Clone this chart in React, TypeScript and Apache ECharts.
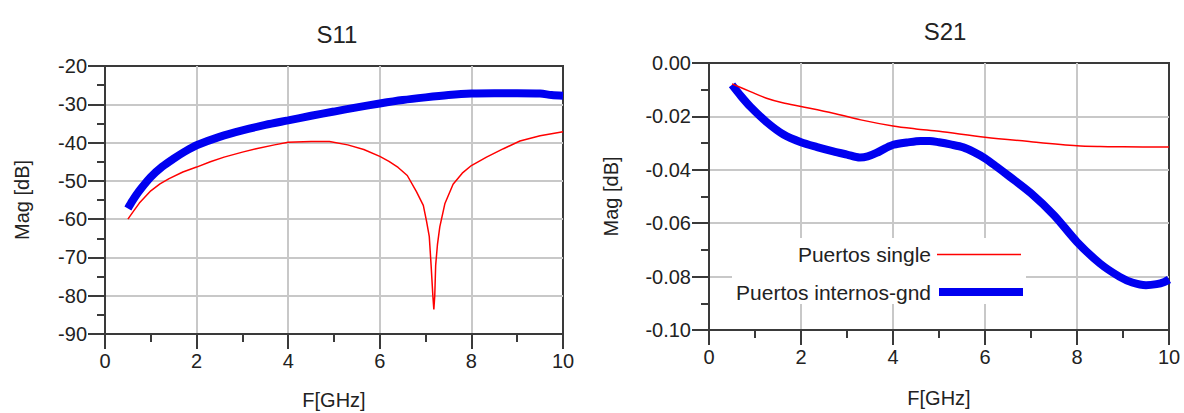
import React, { useEffect, useRef } from "react";
import * as echarts from "echarts";

const FONT = "'Liberation Sans', Arial, Helvetica, sans-serif";

// ---- S11 data ----
const s11SingleF = [0.5, 0.6, 0.75, 1.0, 1.2, 1.4, 1.7, 2.0, 2.3, 2.6, 3.0, 3.3, 3.7, 4.0, 4.5, 4.9, 5.3, 5.65, 6.0, 6.2, 6.4, 6.6, 6.8, 6.95, 7.02, 7.08, 7.12, 7.16, 7.18, 7.2, 7.22, 7.26, 7.31, 7.42, 7.6, 7.8, 8.0, 8.33, 8.7, 9.06, 9.5, 10.0];
const s11SingleDb = [-60, -58.3, -55.8, -52.6, -50.8, -49.4, -47.7, -46.4, -45.0, -43.8, -42.5, -41.6, -40.6, -39.9, -39.7, -39.7, -40.6, -41.8, -43.6, -44.9, -46.5, -48.6, -52.8, -56.4, -60.5, -64.5, -72, -80.3, -83.6, -80, -72, -66.5, -62.0, -56.0, -50.9, -48.0, -46.0, -43.8, -41.6, -39.6, -38.2, -37.2];

const s11GndF = [0.5, 0.6, 0.75, 1.0, 1.25, 1.5, 1.75, 2.0, 2.5, 3.0, 3.5, 4.0, 4.5, 5.0, 5.5, 6.0, 6.5, 7.0, 7.5, 8.0, 8.5, 9.0, 9.5, 9.75, 10.0];
const s11GndDb = [-57.2, -55.2, -52.6, -49.0, -46.3, -44.2, -42.3, -40.7, -38.5, -36.8, -35.4, -34.2, -33.0, -31.9, -30.8, -29.8, -28.9, -28.2, -27.6, -27.2, -27.1, -27.1, -27.2, -27.6, -27.8];

// ---- S21 data ----
const s21SingleF = [0.5, 0.9, 1.25, 1.6, 2.0, 2.7, 3.3, 4.0, 4.5, 5.0, 6.0, 7.0, 8.0, 8.5, 9.0, 10.0];
const s21SingleDb = [-0.0078, -0.0107, -0.0132, -0.0149, -0.0163, -0.0188, -0.0213, -0.0236, -0.0247, -0.0256, -0.0278, -0.0295, -0.031, -0.0313, -0.0314, -0.0315];

const s21GndF = [0.5, 0.7, 0.9, 1.25, 1.62, 2.0, 2.35, 2.7, 3.0, 3.28, 3.45, 3.64, 3.85, 4.02, 4.3, 4.6, 4.8, 5.0, 5.25, 5.53, 5.75, 6.0, 6.25, 6.54, 7.0, 7.5, 8.0, 8.5, 8.93, 9.2, 9.5, 9.73, 9.9, 10.0];
const s21GndDb = [-0.0082, -0.0125, -0.0164, -0.0221, -0.0268, -0.0297, -0.0315, -0.0331, -0.0343, -0.0354, -0.035, -0.0337, -0.0318, -0.0306, -0.0298, -0.0292, -0.0292, -0.0297, -0.0305, -0.0316, -0.0333, -0.0357, -0.0388, -0.0426, -0.0488, -0.057, -0.067, -0.0751, -0.0801, -0.0822, -0.0832, -0.0828, -0.082, -0.0811];

const titles = ["S11", "S21"];
const legendNames = ["Puertos single", "Puertos internos-gnd"];
const xName = "F[GHz]";
const yName = "Mag [dB]";

const zip = (xs: number[], ys: number[]) => xs.map((x, i) => [x, ys[i]]);

const AXIS_COLOR = "#3a3a3a";
const GRID_COLOR = "#c8c8c8";
const TEXT_COLOR = "#222";
const RED = "#ff0000";
const BLUE = "#0000f0";

function xAxisCfg(gridIndex: number, nameGap: number) {
  return {
    gridIndex,
    type: "value",
    min: 0,
    max: 10,
    interval: 2,
    axisLine: { show: true, onZero: false, lineStyle: { color: AXIS_COLOR, width: 2 } },
    axisTick: { show: true, length: 15, lineStyle: { color: AXIS_COLOR, width: 2 } },
    minorTick: { show: true, splitNumber: 2, length: 8, lineStyle: { color: AXIS_COLOR, width: 2 } },
    splitLine: { show: true, showMinLine: false, showMaxLine: false, lineStyle: { color: GRID_COLOR, width: 2 } },
    axisLabel: { fontSize: 20, color: TEXT_COLOR, margin: 17, fontFamily: FONT },
    name: xName,
    nameLocation: "middle",
    nameGap,
    nameTextStyle: { fontSize: 20, color: TEXT_COLOR, fontFamily: FONT },
  };
}

function yAxisCfg(gridIndex: number, min: number, max: number, interval: number, nameGap: number, fmt?: (v: number) => string) {
  return {
    gridIndex,
    type: "value",
    min,
    max,
    interval,
    axisLine: { show: true, onZero: false, lineStyle: { color: AXIS_COLOR, width: 2 } },
    axisTick: { show: true, length: 17, lineStyle: { color: AXIS_COLOR, width: 2 } },
    minorTick: { show: true, splitNumber: 2, length: 8, lineStyle: { color: AXIS_COLOR, width: 2 } },
    splitLine: { show: true, showMinLine: false, showMaxLine: false, lineStyle: { color: GRID_COLOR, width: 2 } },
    axisLabel: { fontSize: 20, color: TEXT_COLOR, margin: 18, fontFamily: FONT, formatter: fmt },
    name: yName,
    nameLocation: "middle",
    nameGap,
    nameTextStyle: { fontSize: 20, color: TEXT_COLOR, fontFamily: FONT },
  };
}

export default function App() {
  const ref = useRef<HTMLDivElement>(null);
  useEffect(() => {
    if (!ref.current) return;
    const chart = echarts.init(ref.current, null, { renderer: "svg" });
    const option: any = {
      animation: false,
      backgroundColor: "#ffffff",
      title: [
        { text: titles[0], left: 332, top: 17, textAlign: "center", textStyle: { fontSize: 24, fontWeight: "normal", color: TEXT_COLOR, fontFamily: FONT } },
        { text: titles[1], left: 940, top: 14, textAlign: "center", textStyle: { fontSize: 24, fontWeight: "normal", color: TEXT_COLOR, fontFamily: FONT } },
      ],
      grid: [
        { left: 105, top: 66, width: 458, height: 268, show: true, borderColor: AXIS_COLOR, borderWidth: 2, containLabel: false, outerBoundsMode: "none" },
        { left: 709, top: 63, width: 460, height: 267, show: true, borderColor: AXIS_COLOR, borderWidth: 2, containLabel: false, outerBoundsMode: "none" },
      ],
      xAxis: [xAxisCfg(0, 56), xAxisCfg(1, 58)],
      yAxis: [
        yAxisCfg(0, -90, -20, 10, 73),
        yAxisCfg(1, -0.1, 0, 0.02, 88, (v: number) => (Math.abs(v) < 1e-9 ? "0.00" : v.toFixed(2))),
      ],
      series: [
        {
          name: legendNames[1], type: "line", xAxisIndex: 0, yAxisIndex: 0, showSymbol: false, silent: true, smooth: 0.3,
          data: zip(s11GndF, s11GndDb), lineStyle: { color: BLUE, width: 8 }, itemStyle: { color: BLUE }, z: 3,
        },
        {
          name: legendNames[0], type: "line", xAxisIndex: 0, yAxisIndex: 0, showSymbol: false, silent: true,
          data: zip(s11SingleF, s11SingleDb), lineStyle: { color: RED, width: 1.5 }, itemStyle: { color: RED }, z: 4,
        },
        {
          name: legendNames[1], type: "line", xAxisIndex: 1, yAxisIndex: 1, showSymbol: false, silent: true, smooth: 0.3,
          data: zip(s21GndF, s21GndDb), lineStyle: { color: BLUE, width: 8 }, itemStyle: { color: BLUE }, z: 3,
        },
        {
          name: legendNames[0], type: "line", xAxisIndex: 1, yAxisIndex: 1, showSymbol: false, silent: true, smooth: 0.3,
          data: zip(s21SingleF, s21SingleDb), lineStyle: { color: RED, width: 1.5 }, itemStyle: { color: RED }, z: 4,
        },
      ],
      graphic: [
        { type: "rect", z: 100, shape: { x: 732, y: 238, width: 294, height: 66 }, style: { fill: "#ffffff" } },
        { type: "text", z: 101, x: 931, y: 254, style: { text: legendNames[0], fontSize: 21, fontFamily: FONT, fill: TEXT_COLOR, textAlign: "right", textVerticalAlign: "middle" } },
        { type: "line", z: 101, shape: { x1: 937, y1: 254.5, x2: 1021, y2: 254.5 }, style: { stroke: RED, lineWidth: 1.5 } },
        { type: "text", z: 101, x: 931, y: 292, style: { text: legendNames[1], fontSize: 21, fontFamily: FONT, fill: TEXT_COLOR, textAlign: "right", textVerticalAlign: "middle" } },
        { type: "line", z: 101, shape: { x1: 939, y1: 292, x2: 1023, y2: 292 }, style: { stroke: BLUE, lineWidth: 8 } },
      ],
    };
    chart.setOption(option);
    return () => chart.dispose();
  }, []);
  return <div ref={ref} style={{ position: "absolute", left: 0, top: 0, width: 1184, height: 413 }} />;
}
